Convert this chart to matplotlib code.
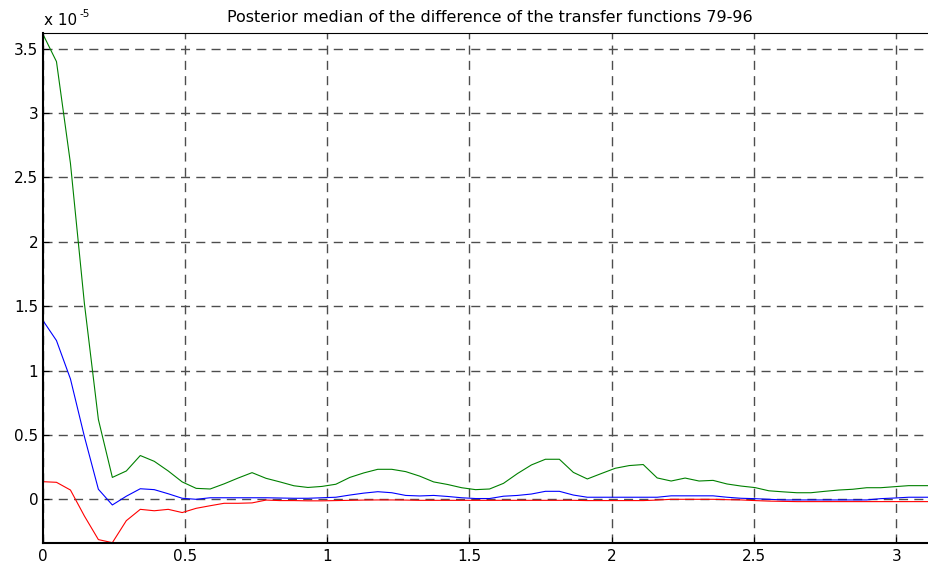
import numpy as np
import matplotlib
matplotlib.use("Agg")
import matplotlib.pyplot as plt
from matplotlib.ticker import FuncFormatter

# Frequency grid: 65 points from 0 to pi
n_points = 65
scale = 1e-5

# Posterior medians (in units of 1e-5)
green_vals = [3.62, 3.40, 2.61, 1.52, 0.62, 0.17, 0.22, 0.34, 0.295, 0.22,
              0.135, 0.085, 0.08, 0.12, 0.165, 0.207, 0.163, 0.135, 0.105, 0.092,
              0.10, 0.117, 0.17, 0.205, 0.233, 0.233, 0.215, 0.18, 0.135, 0.115,
              0.09, 0.075, 0.08, 0.124, 0.20, 0.267, 0.311, 0.311, 0.209, 0.158,
              0.20, 0.241, 0.262, 0.27, 0.166, 0.142, 0.165, 0.142, 0.147, 0.119,
              0.103, 0.091, 0.066, 0.058, 0.051, 0.051, 0.062, 0.072, 0.078, 0.09,
              0.09, 0.098, 0.106, 0.106, 0.106]
blue_vals = [1.394, 1.233, 0.935, 0.487, 0.078, -0.044, 0.024, 0.082, 0.075, 0.043,
             0.008, 0.0, 0.012, 0.012, 0.012, 0.012, 0.012, 0.010, 0.008, 0.008,
             0.012, 0.016, 0.033, 0.048, 0.059, 0.051, 0.030, 0.026, 0.030, 0.022,
             0.012, 0.006, 0.006, 0.024, 0.030, 0.041, 0.062, 0.062, 0.033, 0.016,
             0.016, 0.016, 0.016, 0.016, 0.016, 0.027, 0.027, 0.027, 0.027, 0.016,
             0.008, 0.005, 0.0, -0.005, -0.005, -0.005, -0.005, -0.005, -0.005, -0.005,
             0.005, 0.010, 0.016, 0.016, 0.016]
red_vals = [0.137, 0.132, 0.072, -0.13, -0.313, -0.337, -0.166, -0.078, -0.089, -0.078,
            -0.103, -0.07, -0.05, -0.031, -0.031, -0.028, -0.006, -0.01, -0.01, -0.012,
            -0.012, -0.01, -0.008, -0.006, -0.005, -0.005, -0.006, -0.008, -0.008, -0.008,
            -0.008, -0.008, -0.008, -0.008, -0.008, -0.008, -0.008, -0.008, -0.008, -0.01,
            -0.01, -0.01, -0.01, -0.01, -0.006, 0.0, 0.0, 0.0, 0.0, -0.003,
            -0.005, -0.01, -0.014, -0.016, -0.018, -0.018, -0.018, -0.018, -0.018, -0.018,
            -0.018, -0.018, -0.018, -0.018, -0.018]

x_ticks = [0, 0.5, 1, 1.5, 2, 2.5, 3]
y_ticks = [0, 0.5, 1, 1.5, 2, 2.5, 3, 3.5]
title = "Posterior median of the difference of the transfer functions 79-96"

plt.rcParams['font.family'] = ['DejaVu Sans']

freq = np.linspace(0, np.pi, n_points)
green = np.array(green_vals) * scale
blue = np.array(blue_vals) * scale
red = np.array(red_vals) * scale

W, H = 929, 565
fig = plt.figure(figsize=(W / 100, H / 100), dpi=100)
ax = fig.add_axes([0.04575, 0.0395, 0.9624, 0.9016])

ax.plot(freq, green, color='#008000', lw=0.8)
ax.plot(freq, blue, color='#0000ff', lw=0.8)
ax.plot(freq, red, color='#ff0000', lw=0.8)

all_vals = np.concatenate([green, blue, red])
ax.set_xlim(0, np.pi)
ax.set_ylim(all_vals.min(), all_vals.max())

ax.set_xticks(x_ticks)
ax.set_yticks([v * scale for v in y_ticks])
ax.xaxis.set_major_formatter(FuncFormatter(lambda v, p: f"{v:g}"))
ax.yaxis.set_major_formatter(FuncFormatter(lambda v, p: f"{v / scale:g}"))
ax.tick_params(direction='in', length=4, width=0.8, labelsize=11, colors='black')
ax.tick_params(axis='y', pad=3)
ax.tick_params(axis='x', pad=4.5)

ax.grid(True, color='0.3', lw=1.0, linestyle=(0, (6.5, 4.5)))
ax.set_axisbelow(True)

for side in ('left', 'bottom'):
    ax.spines[side].set_linewidth(1.5)
ax.spines['top'].set_linewidth(0.8)
ax.spines['right'].set_linewidth(0.8)

ax.set_title(title, fontsize=11.5, pad=8)

# exponent label above the y axis
fig.text(44 / W, 1 - 25 / H, "x 10", fontsize=11, ha='left', va='baseline')
fig.text(80 / W, 1 - 17 / H, "-5", fontsize=7.5, ha='left', va='baseline')

fig.savefig("out.png", dpi=100)
